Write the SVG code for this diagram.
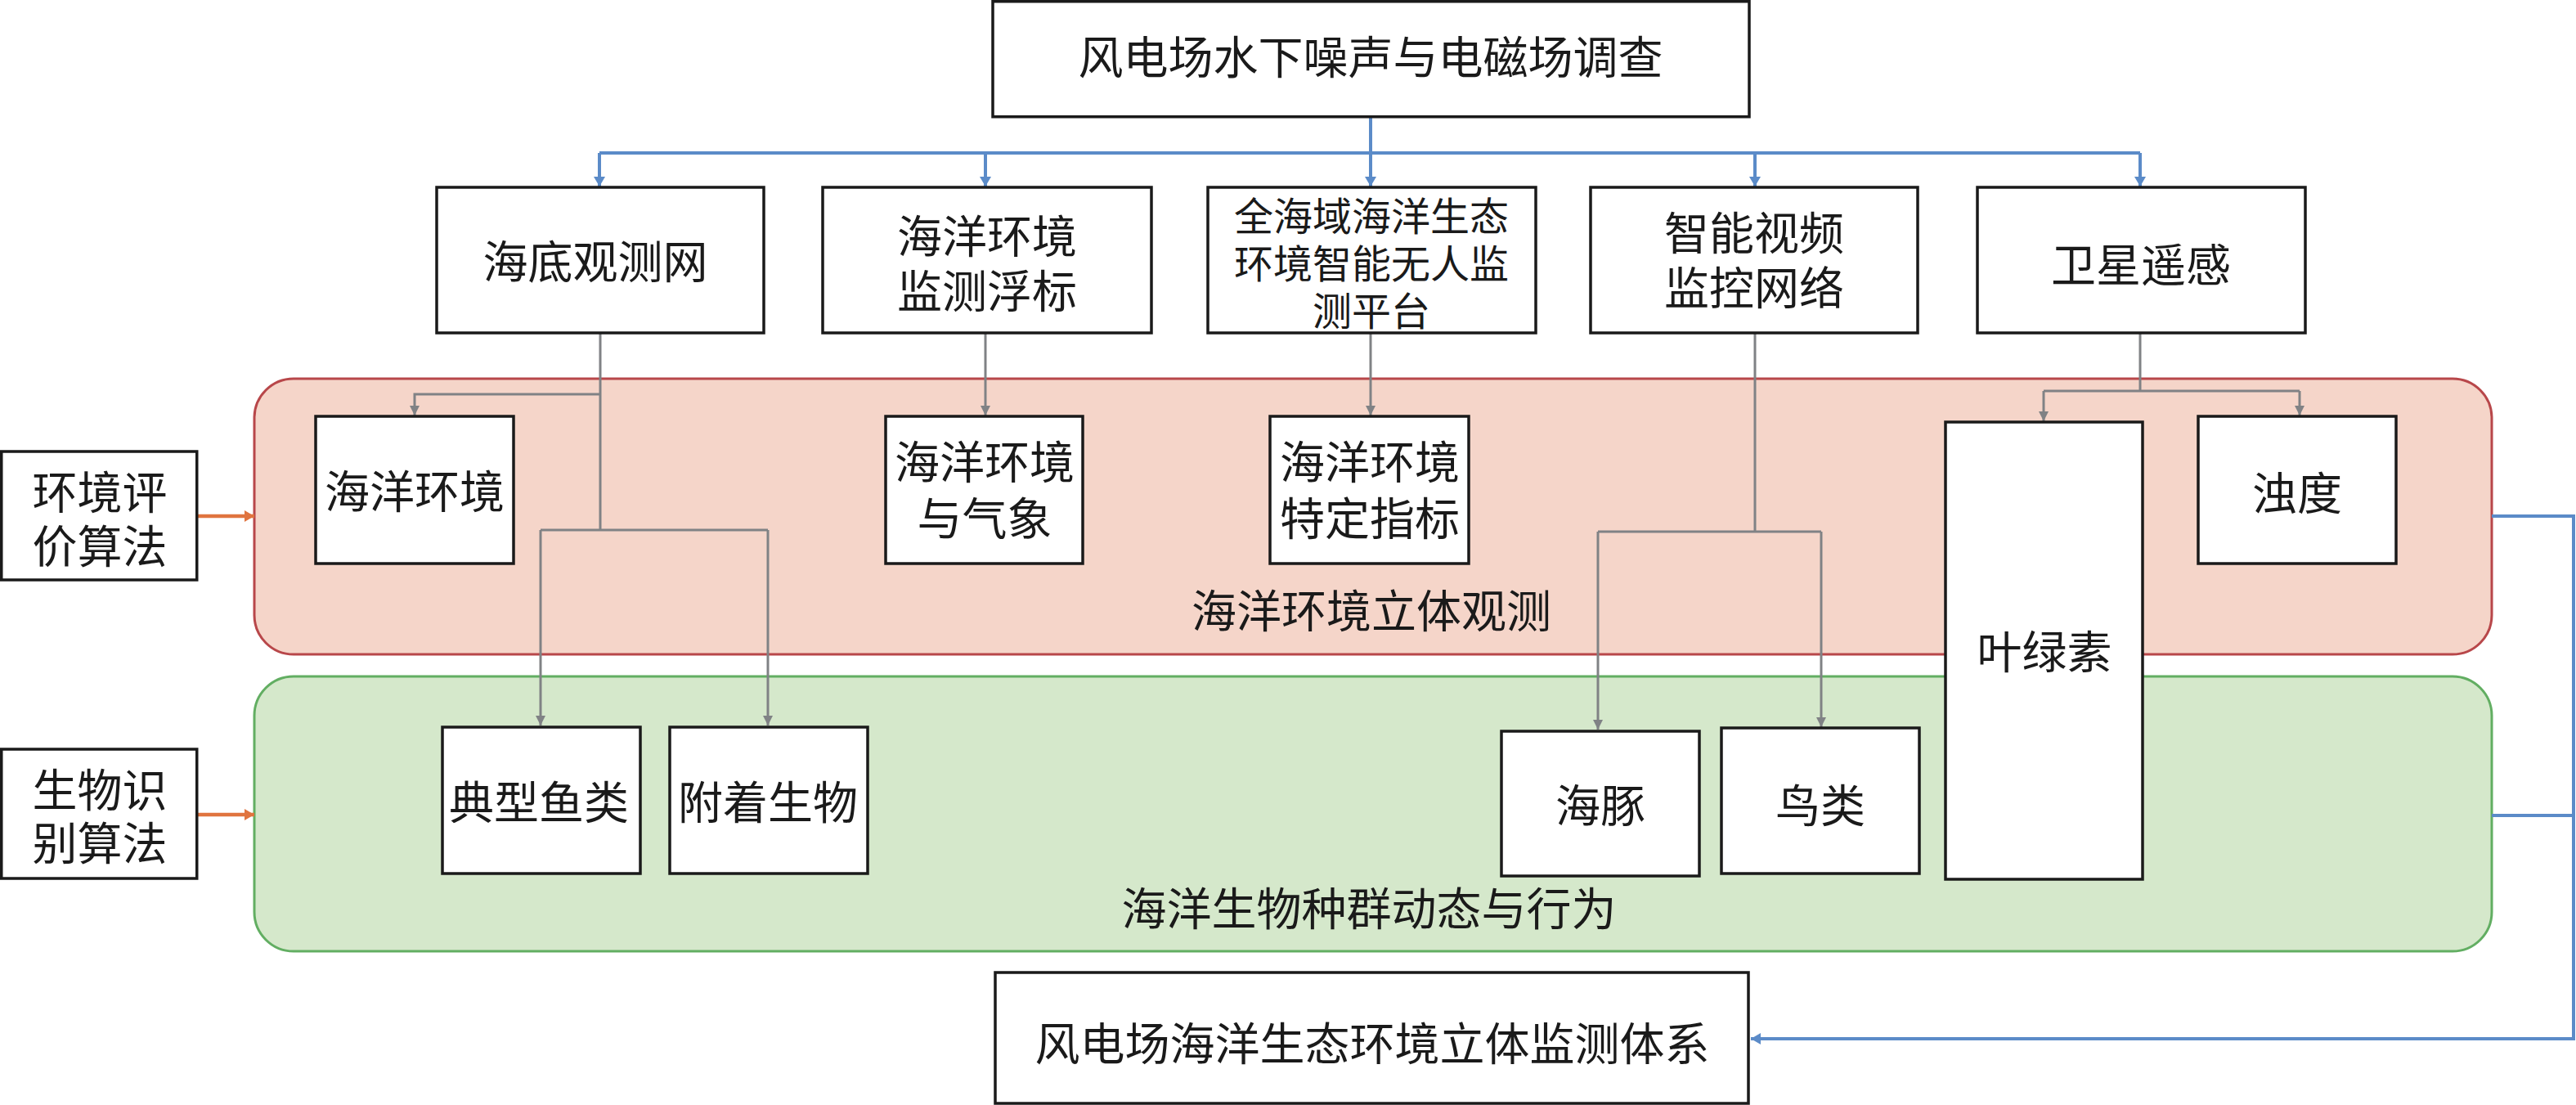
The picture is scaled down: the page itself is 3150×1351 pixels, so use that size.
<svg xmlns="http://www.w3.org/2000/svg" width="3150" height="1351" viewBox="0 0 3150 1351">
<style>
text{font-family:"Noto Sans CJK SC","Noto Sans CJK JP",sans-serif;font-size:55px;fill:#1a1a1a;text-anchor:middle;dominant-baseline:central}
.sm{font-size:48px}
.box{fill:#fff;stroke:#1a1a1a;stroke-width:3.5}
.blue{fill:none;stroke:#5b8bc8;stroke-width:4}
.gray{fill:none;stroke:#808285;stroke-width:3}
.org{fill:none;stroke:#e0743f;stroke-width:4.5}
</style>
<defs>
<marker id="ab" markerUnits="userSpaceOnUse" viewBox="0 0 12 14" markerWidth="12" markerHeight="14" refX="12" refY="7" orient="auto"><path d="M0,0L12,7L0,14z" fill="#5b8bc8"/></marker>
<marker id="ag" markerUnits="userSpaceOnUse" viewBox="0 0 12 12" markerWidth="12" markerHeight="12" refX="12" refY="6" orient="auto"><path d="M0,0L12,6L0,12z" fill="#808285"/></marker>
<marker id="ao" markerUnits="userSpaceOnUse" viewBox="0 0 12 14" markerWidth="12" markerHeight="14" refX="12" refY="7" orient="auto"><path d="M0,0L12,7L0,14z" fill="#e0743f"/></marker>
</defs>
<g id="region-env">
<rect x="311" y="463" width="2736" height="337" rx="48" fill="#f5d5c9" stroke="#b8474a" stroke-width="3"/>
<text x="1677" y="743">海洋环境立体观测</text>
</g>
<g id="region-bio">
<rect x="311" y="827" width="2736" height="336" rx="48" fill="#d5e8cb" stroke="#62ae62" stroke-width="3"/>
<text x="1674" y="1107">海洋生物种群动态与行为</text>
</g>
<g id="connectors">
<path class="blue" d="M1676,143V187M733,187H2617"/>
<path class="blue" marker-end="url(#ab)" d="M733,187V228"/>
<path class="blue" marker-end="url(#ab)" d="M1205,187V228"/>
<path class="blue" marker-end="url(#ab)" d="M1676,187V228"/>
<path class="blue" marker-end="url(#ab)" d="M2146,187V228"/>
<path class="blue" marker-end="url(#ab)" d="M2617,187V228"/>
<path class="blue" d="M3047,997H3147"/>
<path class="blue" marker-end="url(#ab)" d="M3047,631H3147V1270H2141"/>
<path class="gray" d="M734,407V648M661,648H939"/>
<path class="gray" marker-end="url(#ag)" d="M734,482H507V508"/>
<path class="gray" marker-end="url(#ag)" d="M661,648V887"/>
<path class="gray" marker-end="url(#ag)" d="M939,648V887"/>
<path class="gray" marker-end="url(#ag)" d="M1205,407V508"/>
<path class="gray" marker-end="url(#ag)" d="M1676,407V508"/>
<path class="gray" d="M2146,407V650M1954,650H2227"/>
<path class="gray" marker-end="url(#ag)" d="M1954,650V892"/>
<path class="gray" marker-end="url(#ag)" d="M2227,650V889"/>
<path class="gray" d="M2617,407V478M2499,478H2812"/>
<path class="gray" marker-end="url(#ag)" d="M2499,478V515"/>
<path class="gray" marker-end="url(#ag)" d="M2812,478V508"/>
<path class="org" marker-end="url(#ao)" d="M241,631H311"/>
<path class="org" marker-end="url(#ao)" d="M241,996H311"/>
</g>
<g id="n-top"><rect class="box" x="1214" y="1.75" width="925" height="141"/><text x="1676" y="66">风电场水下噪声与电磁场调查</text></g>
<g id="n-seabed"><rect class="box" x="534" y="229" width="400" height="178"/><text x="728" y="316">海底观测网</text></g>
<g id="n-buoy"><rect class="box" x="1006" y="229" width="402" height="178"/><text x="1207" y="285">海洋环境</text><text x="1207" y="352">监测浮标</text></g>
<g id="n-platform"><rect class="box" x="1477" y="229" width="401" height="178"/><text class="sm" x="1677" y="261">全海域海洋生态</text><text class="sm" x="1677" y="319">环境智能无人监</text><text class="sm" x="1677" y="377">测平台</text></g>
<g id="n-video"><rect class="box" x="1945" y="229" width="400" height="178"/><text x="2145" y="281">智能视频</text><text x="2145" y="348">监控网络</text></g>
<g id="n-sat"><rect class="box" x="2418" y="229" width="401" height="178"/><text x="2618" y="320">卫星遥感</text></g>
<g id="n-env"><rect class="box" x="386" y="509" width="242" height="180"/><text x="507" y="597">海洋环境</text></g>
<g id="n-weather"><rect class="box" x="1083" y="509" width="241" height="180"/><text x="1204" y="561">海洋环境</text><text x="1204" y="630">与气象</text></g>
<g id="n-index"><rect class="box" x="1553" y="509" width="243" height="180"/><text x="1675" y="561">海洋环境</text><text x="1675" y="630">特定指标</text></g>
<g id="n-turb"><rect class="box" x="2688" y="509" width="242" height="180"/><text x="2809" y="599">浊度</text></g>
<g id="n-chl"><rect class="box" x="2379" y="516" width="241" height="559"/><text x="2500" y="793">叶绿素</text></g>
<g id="n-fish"><rect class="box" x="541" y="889" width="242" height="179"/><text x="659" y="977">典型鱼类</text></g>
<g id="n-attach"><rect class="box" x="819" y="889" width="242" height="179"/><text x="939" y="977">附着生物</text></g>
<g id="n-dolphin"><rect class="box" x="1836" y="894" width="242" height="177"/><text x="1957" y="981">海豚</text></g>
<g id="n-bird"><rect class="box" x="2105" y="890" width="242" height="178"/><text x="2226" y="981">鸟类</text></g>
<g id="n-envalg"><rect class="box" x="1.75" y="552" width="239" height="157"/><text x="122" y="598">环境评</text><text x="122" y="664">价算法</text></g>
<g id="n-bioalg"><rect class="box" x="1.75" y="916" width="239" height="158"/><text x="122" y="962">生物识</text><text x="122" y="1027">别算法</text></g>
<g id="n-bottom"><rect class="box" x="1217" y="1189" width="921" height="160"/><text x="1678" y="1272">风电场海洋生态环境立体监测体系</text></g>
</svg>
